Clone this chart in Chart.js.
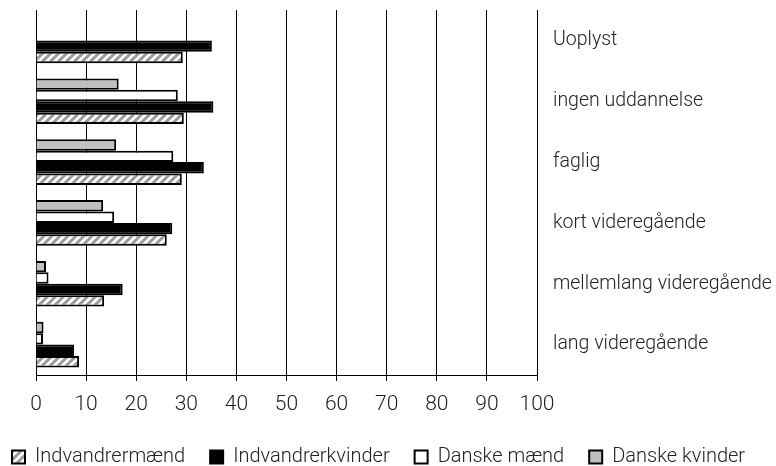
<!DOCTYPE html>
<html>
<head>
<meta charset="utf-8">
<script src="https://cdn.jsdelivr.net/npm/chart.js@4/dist/chart.umd.min.js"></script>
<style>
  html, body { margin: 0; padding: 0; background: #fff; }
  canvas { display: block; }
</style>
</head>
<body>
<canvas id="barchart" width="776" height="466"></canvas>
<script>
// Data
const categories = ['Uoplyst', 'ingen uddannelse', 'faglig', 'kort videregående', 'mellemlang videregående', 'lang videregående'];
const danskeKvinder = [null, 16.5, 16.0, 13.4, 2.0, 1.5];
const danskeMaend = [null, 28.3, 27.4, 15.6, 2.5, 1.4];
const indvandrerKvinder = [35.1, 35.4, 33.5, 27.2, 17.3, 7.6];
const indvandrerMaend = [29.3, 29.5, 29.1, 26.1, 13.6, 8.6];
const xTicks = [0, 10, 20, 30, 40, 50, 60, 70, 80, 90, 100];

// hatched fill for Indvandrermænd
function makeHatch() {
    var c = document.createElement('canvas');
    c.width = 8;
    c.height = 8;
    var g = c.getContext('2d');
    g.fillStyle = '#ffffff';
    g.fillRect(0, 0, 8, 8);
    g.strokeStyle = '#9a9a9a';
    g.lineWidth = 3;
    g.beginPath();
    g.moveTo(-4, 4); g.lineTo(4, -4);
    g.moveTo(0, 8); g.lineTo(8, 0);
    g.moveTo(4, 12); g.lineTo(12, 4);
    g.stroke();
    return g.createPattern(c, 'repeat');
}

const ctxBar = document.getElementById('barchart');
const hatch = makeHatch();
const FONT = 'Roboto, "Noto Sans", sans-serif';

new Chart(ctxBar, {
    type: 'bar',
    data: {
        labels: categories,
        datasets: [
            { label: 'Danske kvinder', data: danskeKvinder, backgroundColor: '#c0c0c0' },
            { label: 'Danske mænd', data: danskeMaend, backgroundColor: '#ffffff' },
            { label: 'Indvandrerkvinder', data: indvandrerKvinder, backgroundColor: '#000000' },
            { label: 'Indvandrermænd', data: indvandrerMaend, backgroundColor: hatch }
        ]
    },
    options: {
        indexAxis: 'y',
        responsive: false,
        animation: false,
        datasets: {
            bar: {
                borderColor: '#000000',
                borderWidth: 2,
                categoryPercentage: 0.75,
                barPercentage: 1
            }
        },
        layout: {
            // negative sides give the legend room for one row
            padding: { top: 10, left: -13, right: -30, bottom: -11 }
        },
        scales: {
            x: {
                min: 0,
                max: 100,
                afterFit: function(scale) {
                    scale.paddingLeft = 36; // 0 line at x=36
                    scale.height = 47;
                },
                afterBuildTicks: function(scale) {
                    scale.ticks = xTicks.map(v => ({ value: v }));
                },
                grid: {
                    color: '#000000',
                    lineWidth: 1,
                    tickLength: 6
                },
                border: { color: '#000000', width: 1 },
                ticks: {
                    padding: 11,
                    color: '#222222',
                    font: { family: FONT, size: 21, weight: '300' }
                }
            },
            y: {
                position: 'right',
                afterFit: function(scale) {
                    scale.width = 269; // plot ends at x=537
                    scale.paddingTop = 0;
                    scale.paddingBottom = 0;
                },
                grid: { display: false, drawTicks: false },
                border: { display: false },
                ticks: {
                    padding: 16,
                    color: '#222222',
                    font: { family: FONT, size: 19.5, weight: '300' }
                }
            }
        },
        plugins: {
            legend: {
                position: 'bottom',
                align: 'start',
                labels: {
                    boxWidth: 13,
                    boxHeight: 13,
                    padding: 25,
                    color: '#222222',
                    font: { family: FONT, size: 20, weight: '300' },
                    sort: function(a, b) { return b.datasetIndex - a.datasetIndex; }
                }
            },
            tooltip: { enabled: false }
        }
    }
});
</script>
</body>
</html>
